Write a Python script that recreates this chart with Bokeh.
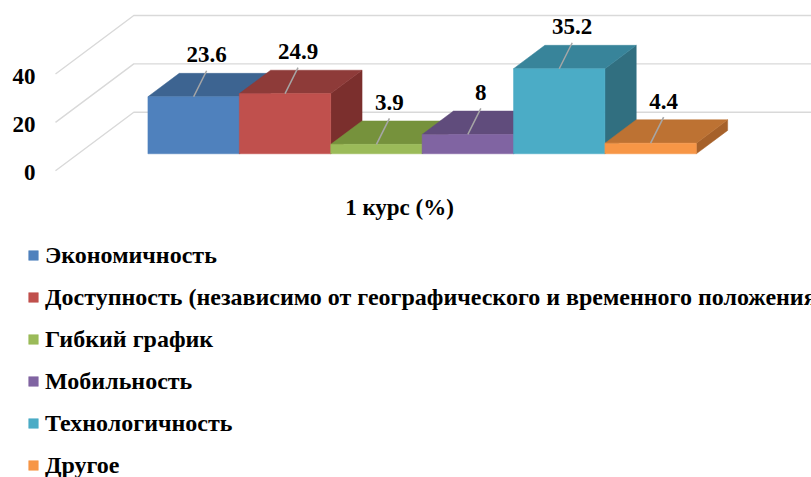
from bokeh.plotting import figure
from bokeh.models import Range1d, ColumnDataSource, Legend, LegendItem
from bokeh.core.properties import value
from bokeh.embed import file_html
from bokeh.resources import INLINE

# ---- data ----
categories = [
    "Экономичность",
    "Доступность (независимо от географического и временного положения)",
    "Гибкий график",
    "Мобильность",
    "Технологичность",
    "Другое",
]
values = [23.6, 24.9, 3.9, 8, 35.2, 4.4]
y_ticks = [0, 20, 40]
group_label = "1 курс (%)"

# ---- styles ----
front_colors = ["#4F81BD", "#C0504D", "#9BBB59", "#8064A2", "#4BACC6", "#F79646"]
top_colors = ["#3D6491", "#8E3B39", "#76923C", "#604C7C", "#38849A", "#BD7233"]
side_colors = ["#375A84", "#7B2F2D", "#66802F", "#54416C", "#316F80", "#A6612A"]
FONT_NAME = "Liberation Serif"
GRID = "#D9D9D9"

# ---- layout (pixels) ----
W, H = 811, 477
PX_PER_UNIT = 2.417
ZERO_Y = 170.2
DEPTH_DX = 78.3
DEPTH_DY = 58.5 / PX_PER_UNIT
WALL_X = 55.0
BAR_X0 = 124.8
BAR_W = 91.4
D_FRONT = 0.289
D_BACK = 0.689


def to_units(py):
    return (ZERO_Y - py) / PX_PER_UNIT


def proj(xw, v, d):
    return xw + DEPTH_DX * d, v + DEPTH_DY * d


p = figure(
    width=W, height=H,
    x_range=Range1d(0, W),
    y_range=Range1d(to_units(H), to_units(0)),
    output_backend="svg", toolbar_location=None,
    x_axis_location=None, y_axis_location=None,
    min_border_left=0, min_border_right=0, min_border_top=0, min_border_bottom=0,
)
p.outline_line_color = None
p.grid.visible = False
p.background_fill_color = "white"

# ---- walls / gridlines ----
gxs, gys = [], []
for t in y_ticks:
    x0, y0 = proj(WALL_X, t, 0)
    x1, y1 = proj(WALL_X, t, 1)
    gxs.append([x0, x1, W])
    gys.append([y0, y1, y1])
p.multi_line(gxs, gys, line_color=GRID, line_width=1.4)

# value-axis tick labels
p.text([WALL_X - 20] * len(y_ticks), y_ticks, text=[str(t) for t in y_ticks],
       text_font=value(FONT_NAME), text_font_style="bold", text_font_size="23px",
       text_align="right", text_baseline="middle", y_offset=2, text_color="black")

# ---- bars ----
sx, sy, tx, ty = [], [], [], []
fl, fr, fb, ft = [], [], [], []
lx, ly, l0x, l0y, l1x, l1y = [], [], [], [], [], []
for i, v in enumerate(values):
    xa = BAR_X0 + i * BAR_W
    xb = xa + BAR_W
    pts = [proj(xb, 0, D_FRONT), proj(xb, v, D_FRONT), proj(xb, v, D_BACK), proj(xb, 0, D_BACK)]
    sx.append([q[0] for q in pts]); sy.append([q[1] for q in pts])
    pts = [proj(xa, v, D_FRONT), proj(xb, v, D_FRONT), proj(xb, v, D_BACK), proj(xa, v, D_BACK)]
    tx.append([q[0] for q in pts]); ty.append([q[1] for q in pts])
    a = proj(xa, 0, D_FRONT); b = proj(xb, v, D_FRONT)
    fl.append(a[0]); fb.append(a[1]); fr.append(b[0]); ft.append(b[1])
    cx = (a[0] + b[0]) / 2
    lab_x = cx + 13
    lab_y = b[1] + 42 / PX_PER_UNIT
    lx.append(lab_x); ly.append(lab_y)
    l0x.append(lab_x); l0y.append(lab_y - 16 / PX_PER_UNIT)
    l1x.append(cx); l1y.append(b[1])

p.patches(sx, sy, fill_color=side_colors, line_color=side_colors, line_width=0.5)
p.patches(tx, ty, fill_color=top_colors, line_color=top_colors, line_width=0.5)
front_src = ColumnDataSource(dict(left=fl, right=fr, bottom=fb, top=ft, color=front_colors))
front_r = p.quad(left="left", right="right", bottom="bottom", top="top",
                 fill_color="color", line_color="color", line_width=0.5, source=front_src)

p.segment(l0x, l0y, l1x, l1y, line_color="#A6A6A6", line_width=1.5)
p.text(lx, ly, text=[f"{v:g}" for v in values], text_font=value(FONT_NAME), text_font_style="bold",
       text_font_size="23px", text_align="center", text_baseline="middle", text_color="black")

# category label
cx_all = (BAR_X0 + BAR_X0 + len(values) * BAR_W) / 2
p.text([cx_all], [to_units(206.5)], text=[group_label], text_font=value(FONT_NAME),
       text_font_style="bold", text_font_size="23px", text_align="center",
       text_baseline="alphabetic", text_color="black")

# ---- legend ----
items = [LegendItem(label=c, renderers=[front_r], index=i) for i, c in enumerate(categories)]
LEG_TOP = 241
LEG_LEFT = 27
ROW_H, SPACING = 28, 14
leg_h = len(categories) * ROW_H + (len(categories) - 1) * SPACING
legend = Legend(
    items=items,
    location=(LEG_LEFT, H - (LEG_TOP + leg_h)),
    orientation="vertical",
    glyph_width=12, glyph_height=12, label_height=ROW_H, label_standoff=6,
    spacing=SPACING, padding=0, margin=0,
    border_line_color=None, background_fill_alpha=0,
    label_text_font=FONT_NAME, label_text_font_style="bold",
    label_text_font_size="24px", label_text_color="black",
)
p.add_layout(legend, "center")

open("out.html", "w").write(file_html(p, INLINE))
